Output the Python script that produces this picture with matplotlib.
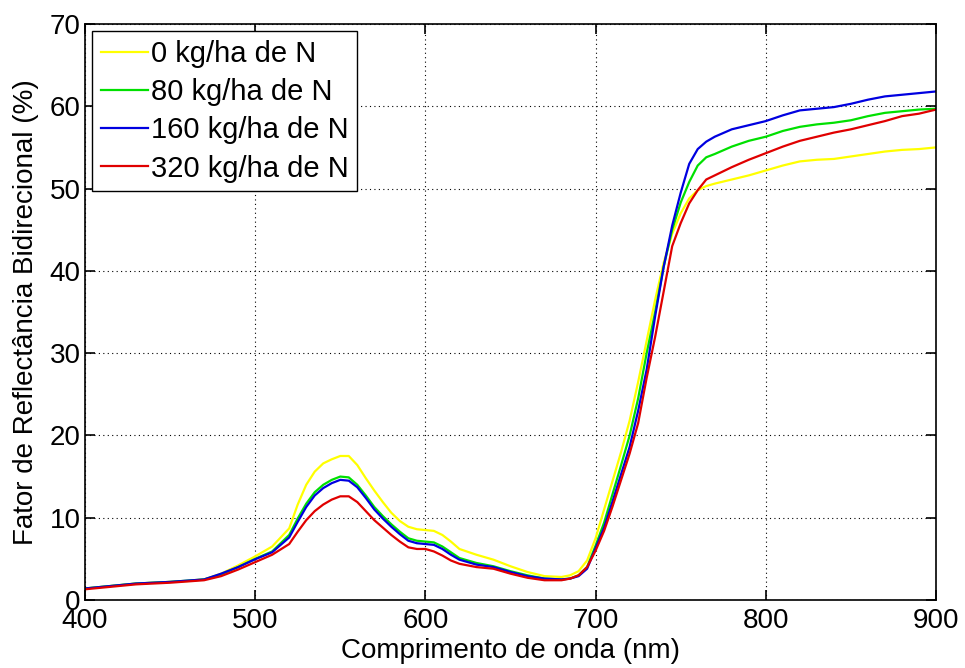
import matplotlib.pyplot as plt

plt.rcParams["font.family"] = ["Liberation Sans", "DejaVu Sans"]

wavelength = [400, 410, 420, 430, 440, 450, 460, 470, 480, 490, 500, 510, 520, 525,
              530, 535, 540, 545, 550, 555, 560, 565, 570, 575, 580, 585, 590, 595,
              600, 605, 610, 615, 620, 630, 640, 650, 660, 670, 680, 685, 690, 695,
              700, 705, 710, 715, 720, 725, 730, 735, 740, 745, 750, 755, 760, 765,
              770, 780, 790, 800, 810, 820, 830, 840, 850, 860, 870, 880, 890, 900]

n0 = [1.4, 1.6, 1.8, 2.0, 2.1, 2.2, 2.3, 2.5, 3.2, 4.2, 5.3, 6.5, 8.7, 11.6,
      14.0, 15.6, 16.6, 17.1, 17.5, 17.5, 16.4, 14.8, 13.3, 11.9, 10.6, 9.6, 8.9, 8.6,
      8.5, 8.4, 7.9, 7.1, 6.2, 5.5, 4.9, 4.1, 3.4, 2.9, 2.8, 3.0, 3.5, 4.8,
      7.5, 11.0, 14.5, 18.0, 21.8, 26.5, 31.5, 36.5, 41.0, 44.5, 47.0, 48.8, 49.8, 50.3,
      50.6, 51.1, 51.6, 52.2, 52.8, 53.3, 53.5, 53.6, 53.9, 54.2, 54.5, 54.7, 54.8, 55.0]

n80 = [1.4, 1.6, 1.8, 2.0, 2.1, 2.2, 2.35, 2.5, 3.1, 4.0, 5.0, 5.9, 7.9, 9.9,
       11.7, 13.1, 14.0, 14.6, 15.0, 14.9, 14.0, 12.7, 11.3, 10.2, 9.2, 8.3, 7.5, 7.2,
       7.1, 7.0, 6.5, 5.8, 5.1, 4.5, 4.1, 3.5, 3.0, 2.6, 2.5, 2.6, 3.0, 4.0,
       6.6, 9.4, 12.9, 16.4, 20.0, 24.5, 30.0, 35.0, 40.5, 45.0, 48.3, 50.8, 52.8, 53.8,
       54.2, 55.1, 55.8, 56.3, 57.0, 57.5, 57.8, 58.0, 58.3, 58.8, 59.2, 59.4, 59.6, 59.7]

n160 = [1.4, 1.6, 1.8, 2.0, 2.1, 2.2, 2.35, 2.5, 3.2, 4.0, 4.95, 5.8, 7.6, 9.5,
        11.3, 12.7, 13.6, 14.2, 14.6, 14.5, 13.7, 12.4, 11.0, 9.9, 8.9, 8.0, 7.2, 6.9,
        6.8, 6.7, 6.2, 5.5, 4.9, 4.3, 4.0, 3.4, 2.9, 2.6, 2.5, 2.6, 2.9, 3.8,
        6.3, 8.8, 12.0, 15.3, 18.6, 23.0, 28.0, 34.5, 40.5, 45.5, 49.5, 53.0, 54.8, 55.7,
        56.3, 57.2, 57.7, 58.2, 58.9, 59.5, 59.7, 59.9, 60.3, 60.8, 61.2, 61.4, 61.6, 61.8]

n320 = [1.3, 1.5, 1.7, 1.9, 2.0, 2.1, 2.25, 2.4, 2.9, 3.7, 4.6, 5.5, 6.8, 8.3,
        9.7, 10.8, 11.6, 12.2, 12.6, 12.6, 11.9, 10.8, 9.7, 8.8, 7.9, 7.1, 6.4, 6.2,
        6.2, 5.9, 5.4, 4.8, 4.4, 4.0, 3.8, 3.2, 2.7, 2.4, 2.4, 2.6, 3.0, 4.0,
        6.0, 8.4, 11.4, 14.6, 17.8, 21.5, 27.0, 32.0, 37.5, 43.0, 45.8, 48.2, 49.8, 51.1,
        51.6, 52.6, 53.5, 54.3, 55.1, 55.8, 56.3, 56.8, 57.2, 57.7, 58.2, 58.8, 59.1, 59.6]

labels = ["0 kg/ha de N", "80 kg/ha de N", "160 kg/ha de N", "320 kg/ha de N"]
colors = ["#ffff00", "#00e000", "#0000e0", "#e00000"]

fig = plt.figure(figsize=(9.65, 6.68), dpi=100)
ax = fig.add_axes([0.088, 0.1018, 0.882, 0.8623])

for ys, lab, c in zip([n0, n80, n160, n320], labels, colors):
    ax.plot(wavelength, ys, color=c, lw=1.6, label=lab)

ax.set_xlim(400, 900)
ax.set_ylim(0, 70)
ax.set_xticks(range(400, 901, 100))
ax.set_yticks(range(0, 71, 10))
ax.grid(True, color="black", linestyle=(0, (1, 3)), lw=0.8)
ax.tick_params(direction="in", top=True, right=True, length=7, width=1.2,
               labelsize=20)
ax.tick_params(axis="x", pad=6)
ax.tick_params(axis="y", pad=3)
for s in ax.spines.values():
    s.set_linewidth(1.2)

ax.set_xlabel("Comprimento de onda (nm)", fontsize=20, labelpad=3)
ax.set_ylabel("Fator de Reflectância Bidirecional (%)", fontsize=20, labelpad=8)

leg = ax.legend(loc="upper left", fontsize=21, frameon=True, fancybox=False,
                edgecolor="black", framealpha=1, borderaxespad=0.25,
                handlelength=1.6, handletextpad=0.1, labelspacing=0.35,
                borderpad=0.3)
leg.get_frame().set_linewidth(1.0)

fig.savefig("out.png", dpi=100)
